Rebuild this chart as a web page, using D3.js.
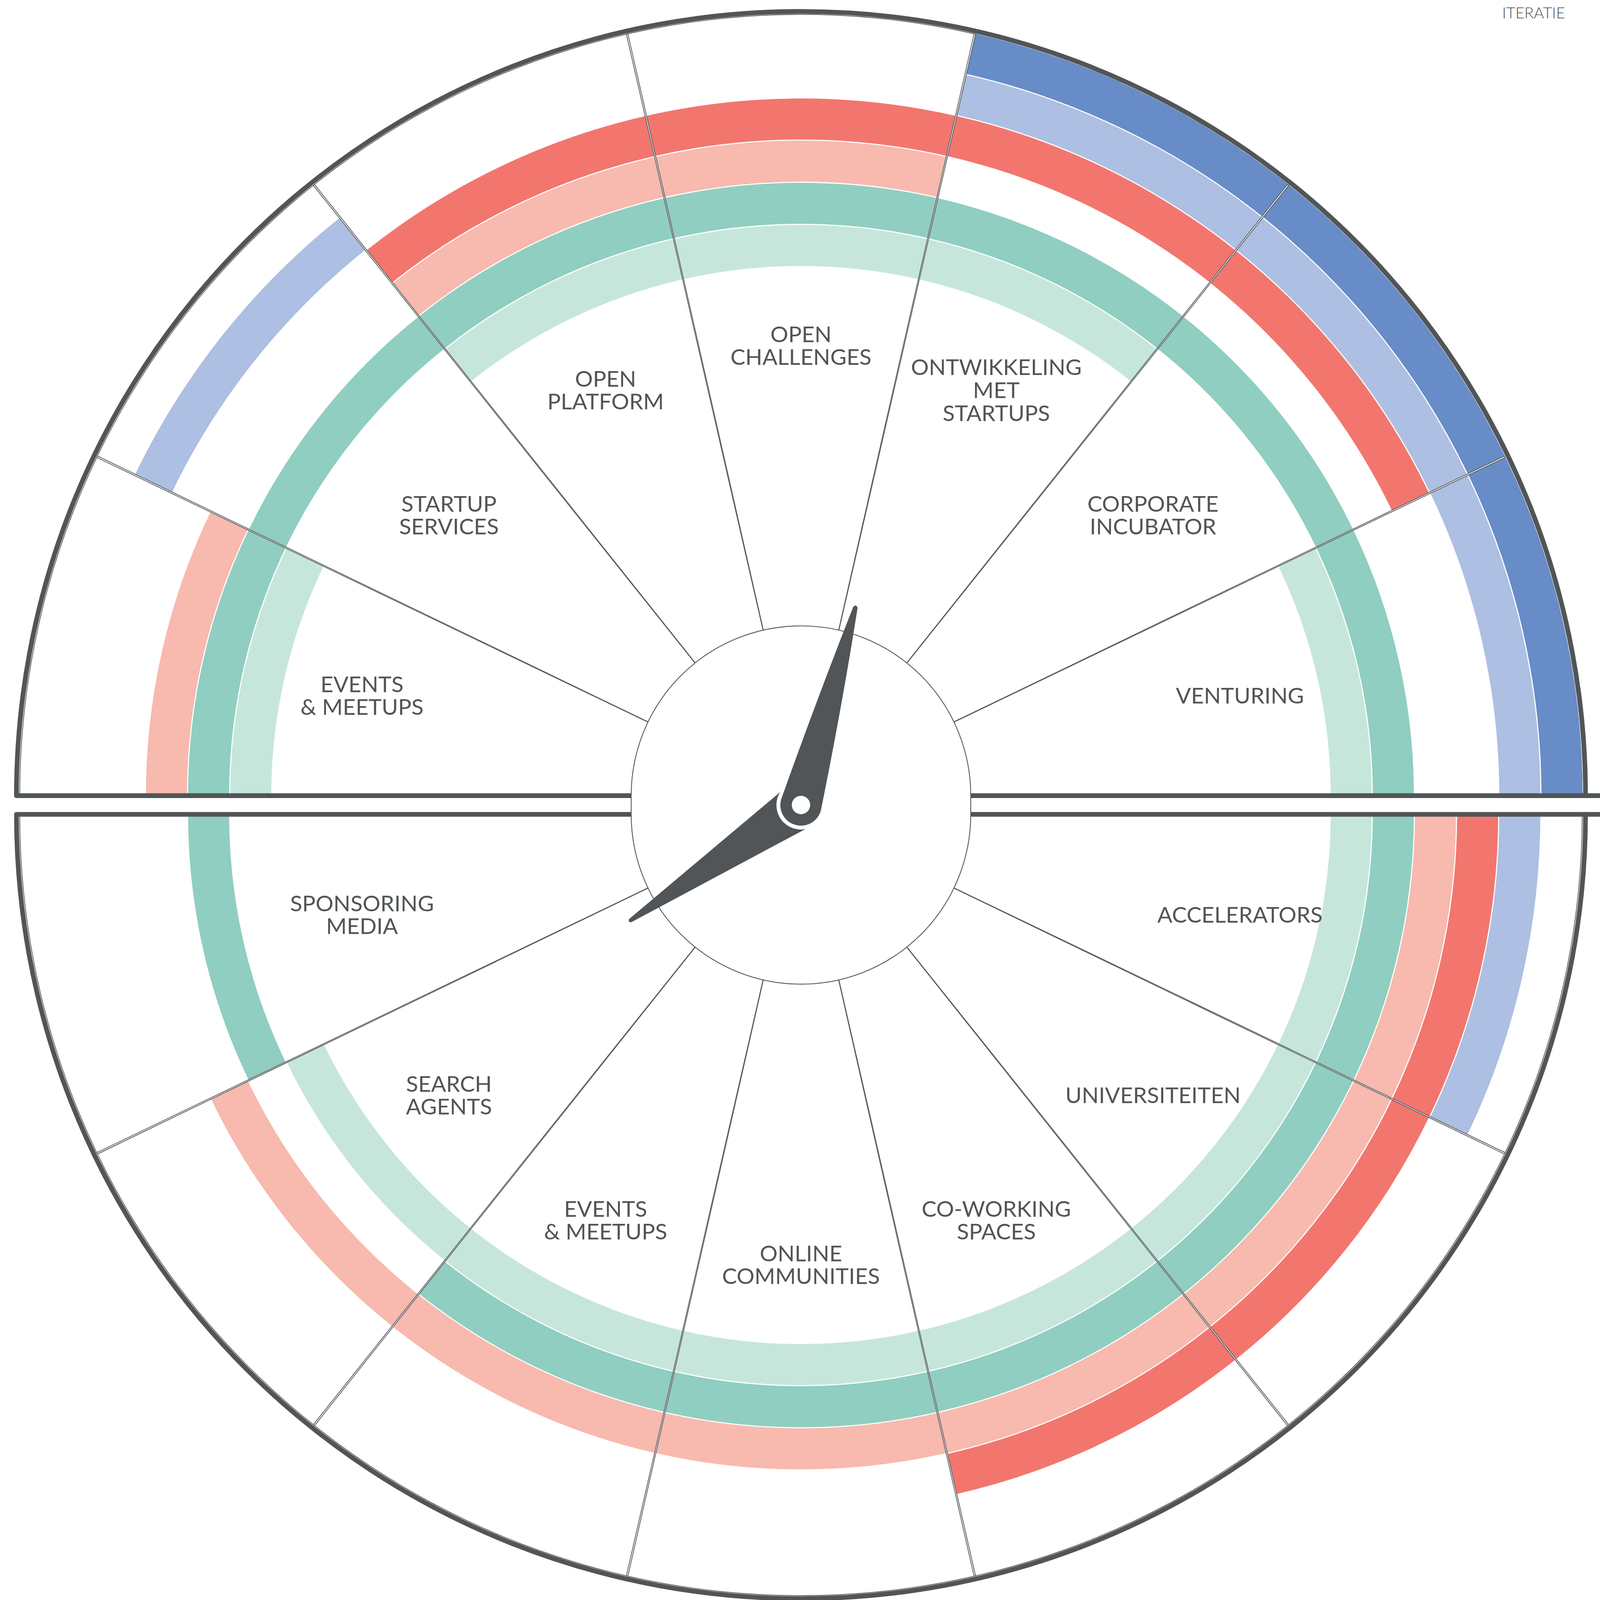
<!DOCTYPE html>
<html lang="nl">
<head>
<meta charset="UTF-8">
<title>Innovatieklok</title>
<script src="https://d3js.org/d3.v7.min.js"></script>
<style>
  html, body { margin: 0; padding: 0; background: #fff; overflow: hidden; }
  svg { display: block; width: 100vw; height: 100vh; background: #fff; }
  text { font-family: Lato, "Open Sans", sans-serif; fill: #515558; }
</style>
</head>
<body>
<svg id="chart"></svg>
<script>
// sector labels, top half from left (9 o'clock) to right, bottom half from right to left
const topLabels = [["EVENTS", "& MEETUPS"], ["STARTUP", "SERVICES"], ["OPEN", "PLATFORM"], ["OPEN", "CHALLENGES"],
                   ["ONTWIKKELING", "MET", "STARTUPS"], ["CORPORATE", "INCUBATOR"], ["VENTURING"]];
const bottomLabels = [["ACCELERATORS"], ["UNIVERSITEITEN"], ["CO-WORKING", "SPACES"], ["ONLINE", "COMMUNITIES"],
                      ["EVENTS", "& MEETUPS"], ["SEARCH", "AGENTS"], ["SPONSORING", "MEDIA"]];

// ring colours, inner to outer
const bandColors = ["#c6e6dc", "#8fcec0", "#f8b9ae", "#f2766e", "#adbfe2", "#678cc7"];

// which rings are filled per sector (1 = filled)
const topBands = [
  [1, 1, 1, 0, 0, 0],
  [0, 1, 0, 0, 1, 0],
  [1, 1, 1, 1, 0, 0],
  [1, 1, 1, 1, 0, 0],
  [1, 1, 0, 1, 1, 1],
  [0, 1, 0, 1, 1, 1],
  [1, 1, 0, 0, 1, 1]
];
const bottomBands = [
  [1, 1, 1, 1, 1, 0],
  [1, 1, 1, 1, 0, 0],
  [1, 1, 1, 1, 0, 0],
  [1, 1, 1, 0, 0, 0],
  [1, 1, 1, 0, 0, 0],
  [1, 0, 1, 0, 0, 0],
  [0, 1, 0, 0, 0, 0]
];

// clock hands, degrees clockwise from 12 o'clock
const minuteAngle = 15.4;
const hourAngle = 235.9;
const cornerLabel = "ITERATIE";

const W = 5739, H = 5713;
const cx = 2873, cyTop = 2841, cyBot = 2908;
const rInner = 609, rOuter = 2814, rEdge = 2805;
const bandStart = 1898, bandStep = 151.2, bandGap = 4;
const pad = 0.001;
const dark = "#515558";

const svg = d3.select("#chart")
  .attr("viewBox", `0 0 ${W} ${H}`)
  .attr("preserveAspectRatio", "xMidYMid meet");

const angTop = d3.scaleLinear().domain([0, 7]).range([-Math.PI / 2, Math.PI / 2]);
const angBot = d3.scaleLinear().domain([0, 7]).range([Math.PI / 2, Math.PI * 1.5]);
const radius = d3.scaleLinear().domain([0, 6]).range([bandStart, bandStart + 6 * bandStep]);

const arc = d3.arc();

function polar(cy, a, r) {
  return [cx + r * Math.sin(a), cy - r * Math.cos(a)];
}

function drawHalf(cy, ang, bands, labels) {
  const g = svg.append("g").attr("transform", `translate(${cx},${cy})`);

  // thin outer edge of the sectors
  g.append("path")
    .attr("d", arc({innerRadius: rEdge - 4, outerRadius: rEdge - 1.5, startAngle: ang(0), endAngle: ang(7)}))
    .attr("fill", dark);

  // ring segments
  bands.forEach((row, i) => {
    row.forEach((on, b) => {
      if (!on) return;
      g.append("path")
        .attr("d", arc({
          innerRadius: radius(b) + bandGap / 2,
          outerRadius: radius(b + 1) - bandGap / 2,
          startAngle: ang(i) + (i === 0 ? 0 : pad),
          endAngle: ang(i + 1) - (i + 1 === 7 ? 0 : pad)
        }))
        .attr("fill", bandColors[b]);
    });
  });

  // double spokes
  d3.range(1, 7).forEach(k => {
    [-pad, pad].forEach(d => {
      const p0 = polar(cy, ang(k) + d, rInner);
      const p1 = polar(cy, ang(k) + d, rEdge - 2);
      svg.append("line")
        .attr("x1", p0[0]).attr("y1", p0[1])
        .attr("x2", p1[0]).attr("y2", p1[1])
        .attr("stroke", dark).attr("stroke-width", 2.6);
    });
  });

  // labels, one text per sector with a tspan per line
  const fs = 80, lh = 82, rl = 1615;
  labels.forEach((lines, i) => {
    const mid = (ang(i) + ang(i + 1)) / 2;
    const p = polar(cy, mid, rl);
    const t = svg.append("text")
      .attr("text-anchor", "middle")
      .attr("font-size", fs);
    lines.forEach((s, j) => {
      t.append("tspan")
        .attr("x", p[0])
        .attr("y", p[1] + (j - (lines.length - 1) / 2) * lh + 0.36 * fs)
        .text(s);
    });
  });
}

drawHalf(cyTop, angTop, topBands, topLabels);
drawHalf(cyBot, angBot, bottomBands, bottomLabels);

// outer frame: two half circles with their baselines
svg.append("path")
  .attr("d", `M${cx - rInner},${cyTop} L${cx - rOuter},${cyTop} A${rOuter},${rOuter} 0 0 1 ${cx + rOuter},${cyTop}`)
  .attr("fill", "none").attr("stroke", dark).attr("stroke-width", 17)
  .attr("stroke-linejoin", "round").attr("stroke-linecap", "round");
svg.append("path")
  .attr("d", `M${cx - rInner},${cyBot} L${cx - rOuter},${cyBot} A${rOuter},${rOuter} 0 0 0 ${cx + rOuter},${cyBot}`)
  .attr("fill", "none").attr("stroke", dark).attr("stroke-width", 17)
  .attr("stroke-linejoin", "round").attr("stroke-linecap", "round");
[cyTop, cyBot].forEach(y => {
  svg.append("line")
    .attr("x1", cx + rInner).attr("y1", y).attr("x2", W + 20).attr("y2", y)
    .attr("stroke", dark).attr("stroke-width", 17).attr("stroke-linecap", "round");
});

// inner dial
svg.append("path")
  .attr("d", `M${cx - rInner},${cyTop} A${rInner},${rInner} 0 0 1 ${cx + rInner},${cyTop} L${cx + rInner},${cyBot} A${rInner},${rInner} 0 0 1 ${cx - rInner},${cyBot} Z`)
  .attr("fill", "#fff").attr("stroke", dark).attr("stroke-width", 3);

// hands
const hub = svg.append("g").attr("transform", `translate(${cx},${(cyTop + cyBot) / 2})`);
hub.append("path")
  .attr("transform", `rotate(${hourAngle})`)
  .attr("d", "M-81,0 L-4,-739 Q0,-745 4,-739 L81,0 Z")
  .attr("fill", dark).attr("stroke", dark).attr("stroke-width", 6).attr("stroke-linejoin", "round");
hub.append("circle").attr("r", 88).attr("fill", "#fff");
hub.append("path")
  .attr("transform", `rotate(${minuteAngle})`)
  .attr("d", "M-72,0 Q-44,-380 -6,-735 Q0,-745 6,-735 Q46,-380 72,0 A72,72 0 0 1 -72,0 Z")
  .attr("fill", dark).attr("stroke", dark).attr("stroke-width", 4).attr("stroke-linejoin", "round");
hub.append("circle").attr("r", 72).attr("fill", dark);
hub.append("circle").attr("r", 33).attr("fill", "#fff");

// corner label
svg.append("text")
  .attr("x", 5501).attr("y", 53)
  .attr("text-anchor", "middle")
  .attr("font-size", 56)
  .attr("font-weight", 300)
  .text(cornerLabel);
</script>
</body>
</html>
